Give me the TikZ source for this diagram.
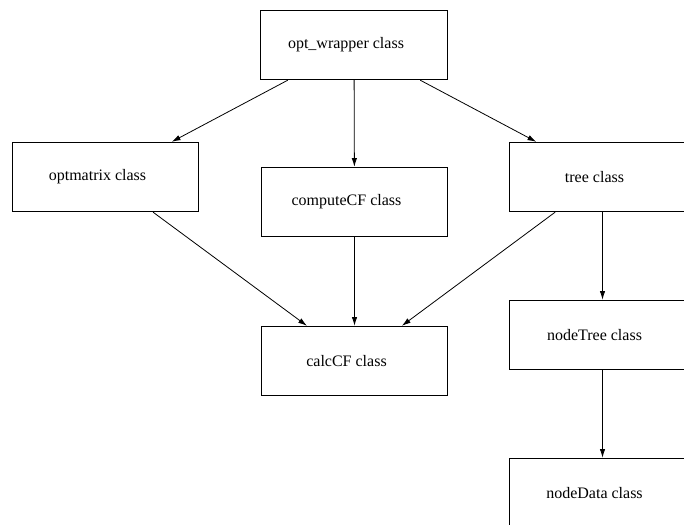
\documentclass[tikz,border=0pt]{standalone}
\usepackage{fontspec}
\setmainfont{Liberation Serif}
\usetikzlibrary{arrows.meta}
\begin{document}
\begin{tikzpicture}[x=0.625pt,y=-0.625pt,
  cls/.style={draw, line width=0.5pt, minimum width=116.5pt, minimum height=43.5pt, inner sep=0pt},
  txt/.style={font=\fontsize{10}{12}\selectfont, inner sep=0pt},
  arr/.style={line width=0.5pt, -{Latex[length=5.5pt,width=3.4pt]}}]
\useasboundingbox (0,0) rectangle (684,524);
\clip (0,0) rectangle (684,524);
\node[cls] (ow) at (354,45)    {};
\node[cls] (om) at (105.5,177) {};
\node[cls] (cc) at (354.5,202) {};
\node[cls] (tr) at (602.5,177) {};
\node[cls] (ca) at (354.5,361) {};
\node[cls] (nt) at (602.5,335) {};
\node[cls] (nd) at (602.5,493) {};
\node[txt] (owt) at ([xshift=-5pt]ow.center) {opt\_wrapper class};
\node[txt] (omt) at ([xshift=-5pt]om.center) {optmatrix class};
\node[txt] (cct) at ([xshift=-5pt]cc.center) {computeCF class};
\node[txt] (trt) at ([xshift=-5pt]tr.center) {tree class};
\node[txt] (cat) at ([xshift=-5pt]ca.center) {calcCF class};
\node[txt] (ntt) at ([xshift=-5pt]nt.center) {nodeTree class};
\node[txt] (ndt) at ([xshift=-5pt]nd.center) {nodeData class};
\draw[arr] (ow) -- (om);
\draw[arr] (ow) -- (cc);
\draw[arr] (ow) -- (tr);
\draw[arr] (om) -- (ca);
\draw[arr] (cc) -- (ca);
\draw[arr] (tr) -- (ca);
\draw[arr] (tr) -- (nt);
\draw[arr] (nt) -- (nd);
\end{tikzpicture}
\end{document}
